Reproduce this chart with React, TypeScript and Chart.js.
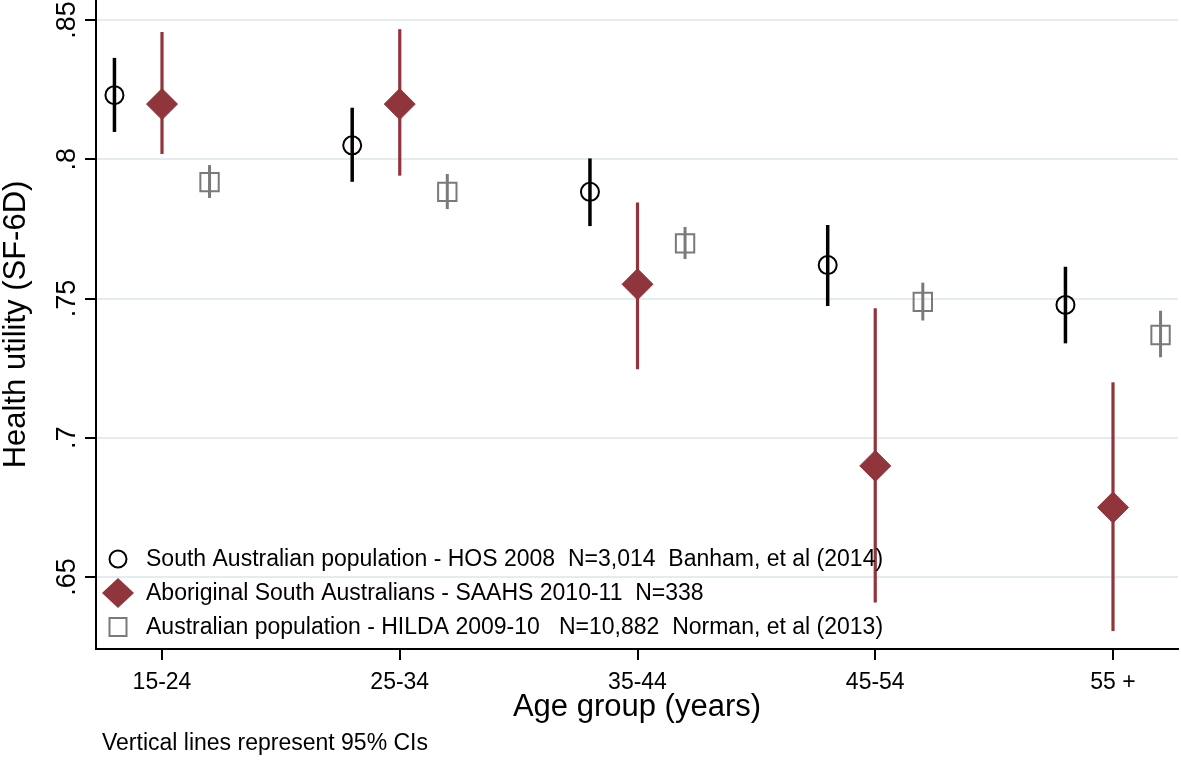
import React, { useEffect, useRef } from 'react';
import { Chart, registerables } from 'chart.js';

Chart.register(...registerables);

const categories = ['15-24', '25-34', '35-44', '45-54', '55 +'];
const yTickValues = [0.65, 0.7, 0.75, 0.8, 0.85];
const yTickLabels = ['.65', '.7', '.75', '.8', '.85'];

const hosMean = [0.823, 0.805, 0.7883, 0.762, 0.7477];
const hosLow = [0.8098, 0.7919, 0.776, 0.7473, 0.7339];
const hosHigh = [0.8364, 0.8185, 0.8003, 0.7764, 0.7614];

const saahsMean = [0.8198, 0.8198, 0.7551, 0.6899, 0.675];
const saahsLow = [0.8019, 0.7941, 0.7246, 0.6408, 0.6306];
const saahsHigh = [0.8457, 0.8467, 0.7845, 0.7465, 0.7199];

const hildaMean = [0.7918, 0.7883, 0.7698, 0.7488, 0.7369];
const hildaLow = [0.7861, 0.7821, 0.7642, 0.7421, 0.7289];
const hildaHigh = [0.7979, 0.7947, 0.7757, 0.7557, 0.7456];

const seriesLabels = [
  'South Australian population - HOS 2008  N=3,014  Banham, et al (2014)',
  'Aboriginal South Australians - SAAHS 2010-11  N=338',
  'Australian population - HILDA 2009-10   N=10,882  Norman, et al (2013)',
];
const xOffsets = [-0.2, 0, 0.2];
const xTitle = 'Age group (years)';
const yTitle = 'Health utility (SF-6D)';
const footnote = 'Vertical lines represent 95% CIs';

const FONT = '"Liberation Sans", Arial, Helvetica, sans-serif';
const BLACK = '#000000';
const MAROON = '#90353b';
const GRAY = '#7a7a7a';
const GRID = '#e3edf1';

const seriesStyles = [
  { color: BLACK, ciWidth: 3.5, style: 'circle', radius: 9, fill: 'rgba(0,0,0,0)', bw: 2 },
  { color: MAROON, ciWidth: 3.2, style: 'rectRot', radius: 15.5, fill: MAROON, bw: 1 },
  { color: GRAY, ciWidth: 3, style: 'rect', radius: 13, fill: 'rgba(0,0,0,0)', bw: 2 },
];

const means = [hosMean, saahsMean, hildaMean];
const lows = [hosLow, saahsLow, hildaLow];
const highs = [hosHigh, saahsHigh, hildaHigh];

const customPlugin = {
  id: 'customDraw',
  beforeDatasetsDraw(chart: any) {
    const ctx = chart.ctx;
    const xs = chart.scales.x;
    const ys = chart.scales.y;
    ctx.save();
    for (let s = 0; s < 3; s++) {
      const st = seriesStyles[s];
      ctx.strokeStyle = st.color;
      ctx.lineWidth = st.ciWidth;
      ctx.lineCap = 'butt';
      for (let i = 0; i < categories.length; i++) {
        const px = xs.getPixelForValue(i + xOffsets[s]);
        ctx.beginPath();
        ctx.moveTo(px, ys.getPixelForValue(lows[s][i]));
        ctx.lineTo(px, ys.getPixelForValue(highs[s][i]));
        ctx.stroke();
      }
    }
    ctx.restore();
  },
  afterDraw(chart: any) {
    const ctx = chart.ctx;
    const xs = chart.scales.x;
    const ys = chart.scales.y;
    ctx.save();
    ctx.fillStyle = '#000';

    // y tick labels (rotated)
    ctx.font = `27px ${FONT}`;
    ctx.textAlign = 'center';
    ctx.textBaseline = 'alphabetic';
    yTickValues.forEach((v, i) => {
      const py = ys.getPixelForValue(v);
      ctx.save();
      ctx.translate(75, py);
      ctx.rotate(-Math.PI / 2);
      ctx.fillText(yTickLabels[i], 0, 0);
      ctx.restore();
    });

    // y title
    ctx.font = `31px ${FONT}`;
    ctx.save();
    ctx.translate(25, (chart.chartArea.top + chart.chartArea.bottom) / 2);
    ctx.rotate(-Math.PI / 2);
    ctx.fillText(yTitle, 0, 0);
    ctx.restore();

    // x tick labels
    ctx.font = `23px ${FONT}`;
    ctx.textAlign = 'center';
    categories.forEach((c, i) => {
      ctx.fillText(c, xs.getPixelForValue(i), 689);
    });

    // x title
    ctx.font = `31px ${FONT}`;
    ctx.fillText(xTitle, (chart.chartArea.left + chart.chartArea.right) / 2, 716);

    // footnote
    ctx.font = `23px ${FONT}`;
    ctx.textAlign = 'left';
    ctx.fillText(footnote, 102, 750);

    // legend
    const rows = [559, 593, 627];
    ctx.font = `23px ${FONT}`;
    ctx.textBaseline = 'middle';
    for (let s = 0; s < 3; s++) {
      const st = seriesStyles[s];
      const cy = rows[s];
      const cx = 118;
      ctx.save();
      ctx.lineWidth = st.bw;
      ctx.strokeStyle = st.color;
      ctx.fillStyle = st.fill;
      ctx.beginPath();
      if (s === 0) {
        ctx.arc(cx, cy, 8.5, 0, Math.PI * 2);
        ctx.stroke();
      } else if (s === 1) {
        ctx.moveTo(cx - 16, cy);
        ctx.lineTo(cx, cy - 15);
        ctx.lineTo(cx + 16, cy);
        ctx.lineTo(cx, cy + 15);
        ctx.closePath();
        ctx.fill();
      } else {
        ctx.rect(cx - 8.5, cy - 9, 17, 18);
        ctx.stroke();
      }
      ctx.restore();
      ctx.fillStyle = '#000';
      ctx.fillText(seriesLabels[s], 146, cy + 1);
    }
    ctx.restore();
  },
};

export default function App() {
  const ref = useRef<HTMLCanvasElement | null>(null);
  useEffect(() => {
    if (!ref.current) return;
    const datasets = [0, 1, 2].map((s) => {
      const st = seriesStyles[s];
      return {
        label: seriesLabels[s],
        data: means[s].map((v, i) => ({ x: i + xOffsets[s], y: v })),
        pointStyle: st.style,
        pointRadius: st.radius,
        pointHoverRadius: st.radius,
        pointBorderWidth: st.bw,
        pointBorderColor: st.color,
        pointBackgroundColor: st.fill,
        showLine: false,
        clip: false,
      };
    });
    const chart = new Chart(ref.current, {
      type: 'scatter',
      data: { datasets: datasets as any },
      options: {
        animation: false,
        responsive: false,
        layout: { autoPadding: false, padding: { left: 0, top: 0, right: 3, bottom: 0 } },
        plugins: { legend: { display: false }, tooltip: { enabled: false } },
        scales: {
          x: {
            type: 'linear',
            min: (96 - 162) / 237.75,
            max: (1178 - 162) / 237.75,
            afterBuildTicks: (scale: any) => {
              scale.ticks = categories.map((_, i) => ({ value: i }));
            },
            afterFit: (scale: any) => {
              scale.height = 112;
            },
            ticks: { display: false },
            grid: {
              drawOnChartArea: false,
              drawTicks: true,
              tickLength: 11,
              tickColor: '#000',
              lineWidth: 2,
            },
            border: { display: true, color: '#000', width: 2 },
          },
          y: {
            type: 'linear',
            min: 0.65 - 72 / 2785,
            max: 0.85 + 20 / 2785,
            afterBuildTicks: (scale: any) => {
              scale.ticks = yTickValues.map((v) => ({ value: v }));
            },
            afterFit: (scale: any) => {
              scale.width = 96;
            },
            ticks: { display: false },
            grid: {
              color: GRID,
              lineWidth: 2,
              drawTicks: true,
              tickLength: 11,
              tickColor: '#000',
            },
            border: { display: true, color: '#000', width: 2 },
          },
        },
      } as any,
      plugins: [customPlugin],
    });
    return () => chart.destroy();
  }, []);
  return (
    <div style={{ position: 'fixed', left: 0, top: 0, width: 1181, height: 761, background: '#fff' }}>
      <canvas ref={ref} width={1181} height={761} style={{ display: 'block' }} />
    </div>
  );
}
